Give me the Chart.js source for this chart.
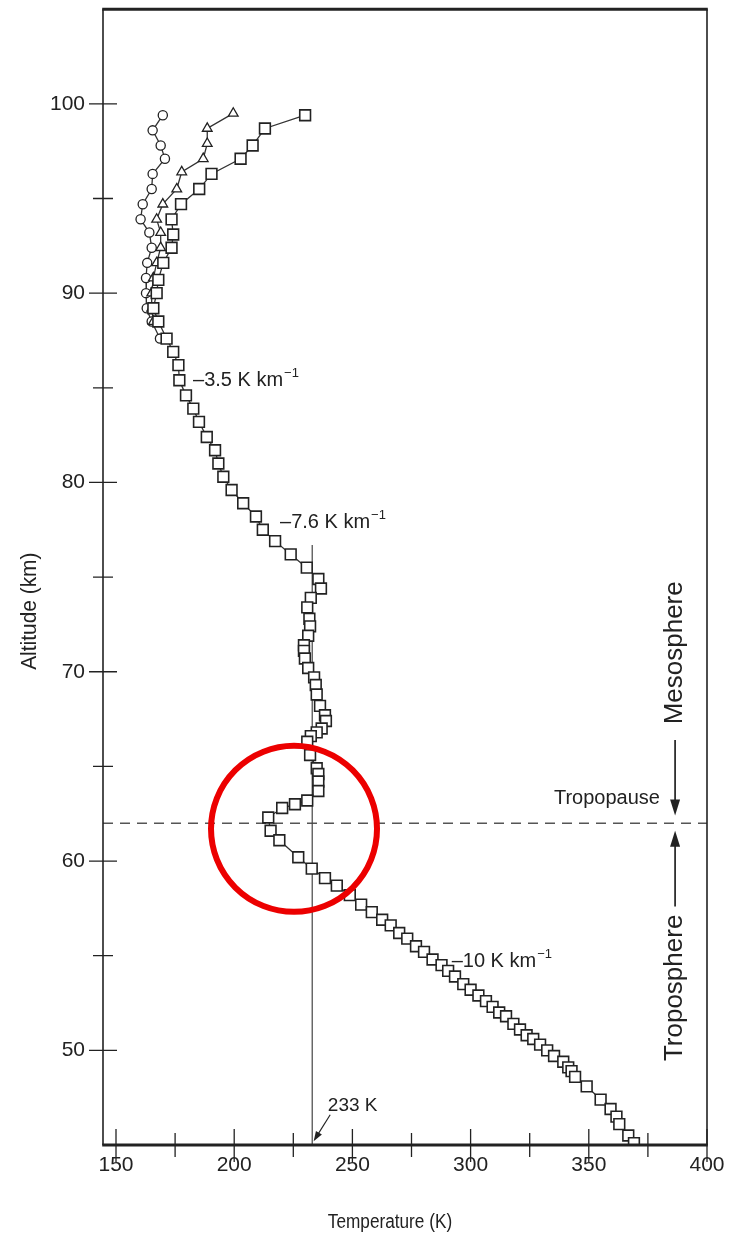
<!DOCTYPE html>
<html>
<head>
<meta charset="utf-8">
<script src="https://cdn.jsdelivr.net/npm/chart.js@4.4.0/dist/chart.umd.min.js"></script>
<style>
  html, body { margin: 0; padding: 0; background: #fff; }
  #wrap { position: relative; width: 732px; height: 1238px; }
</style>
</head>
<body>
<div id="wrap"><canvas id="profile"></canvas></div>
<script>
const FONT = "'Liberation Sans', Arial, Helvetica, sans-serif";
const INK = '#222';

// main profile (squares), top to bottom
const squareAlt = [
    99.4, 98.7, 97.8, 97.1, 96.3, 95.5, 94.7, 93.9, 93.1, 92.4,
    91.6, 90.7, 90.0, 89.2, 88.5, 87.6, 86.9, 86.2, 85.4, 84.6,
    83.9, 83.2, 82.4, 81.7, 81.0, 80.3, 79.6, 78.9, 78.2, 77.5,
    76.9, 76.2, 75.5, 74.9, 74.4, 73.9, 73.4, 72.8, 72.4, 71.9,
    71.4, 71.1, 70.7, 70.2, 69.7, 69.3, 68.8, 68.2, 67.7, 67.4,
    67.0, 66.8, 66.6, 66.3, 65.6, 64.9, 64.6, 64.2, 63.7, 63.2,
    63.0, 62.8, 62.3, 61.6, 61.1, 60.2, 59.6, 59.1, 58.7, 58.2,
    57.7, 57.3, 56.9, 56.6, 56.2, 55.9, 55.5, 55.2, 54.8, 54.5,
    54.2, 53.9, 53.5, 53.2, 52.9, 52.6, 52.3, 52.0, 51.8, 51.4,
    51.1, 50.8, 50.6, 50.3, 50.0, 49.7, 49.4, 49.1, 48.9, 48.6,
    48.1, 47.4, 46.9, 46.5, 46.1, 45.5, 45.1
];
const squareTemp = [
    230.0, 213.0, 207.8, 202.7, 190.4, 185.2, 177.5, 173.5, 174.2, 173.5,
    170.0, 167.9, 167.2, 165.8, 167.9, 171.4, 174.2, 176.4, 176.8, 179.6,
    182.7, 185.1, 188.4, 191.9, 193.3, 195.4, 198.9, 203.8, 209.2, 212.1,
    217.3, 223.9, 230.7, 235.6, 236.7, 232.4, 230.9, 231.8, 232.1, 231.3,
    229.5, 229.5, 229.9, 231.3, 233.8, 234.5, 234.9, 236.3, 238.4, 238.8,
    237.0, 234.9, 232.4, 230.9, 232.1, 234.9, 235.6, 235.6, 235.6, 230.9,
    225.7, 220.3, 214.4, 215.4, 219.1, 227.1, 232.8, 238.4, 243.4, 248.9,
    253.7, 258.2, 262.6, 266.2, 269.8, 273.2, 276.9, 280.3, 283.9, 287.7,
    290.5, 293.4, 296.9, 300.0, 303.3, 306.5, 309.3, 312.1, 315.0, 318.1,
    320.9, 323.7, 326.5, 329.4, 332.4, 335.3, 339.2, 341.3, 342.7, 344.2,
    349.1, 355.0, 359.2, 361.7, 362.9, 366.7, 369.1
];

// upper branches
const triangleAlt  = [99.5, 98.7, 97.9, 97.1, 96.4, 95.5, 94.7, 93.9, 93.2, 92.4, 91.6, 90.8, 90.0, 89.2, 88.5];
const triangleTemp = [199.6, 188.6, 188.6, 186.9, 177.8, 175.7, 169.8, 167.2, 168.9, 168.9, 167.2, 165.8, 165.1, 165.1, 165.8];
const circleAlt  = [99.4, 98.6, 97.8, 97.1, 96.3, 95.5, 94.7, 93.9, 93.2, 92.4, 91.6, 90.8, 90.0, 89.2, 88.5, 87.6];
const circleTemp = [169.8, 165.5, 168.9, 170.7, 165.5, 165.1, 161.3, 160.4, 164.1, 165.1, 163.2, 162.7, 162.7, 163.0, 165.1, 168.6];

const xTicks = [150, 200, 250, 300, 350, 400];
const xMinor = [175, 225, 275, 325, 375];
const yTicks = [50, 60, 70, 80, 90, 100];
const yMinor = [55, 65, 75, 85, 95];

const tropopauseAlt = 62;
const refTemp = 233;
const refTopAlt = 76.7;

function pts(temps, alts) {
    return temps.map((t, i) => ({ x: t, y: alts[i] }));
}

function arrow(ctx, x0, y0, x1, y1, head, half) {
    const a = Math.atan2(y1 - y0, x1 - x0);
    const c = Math.cos(a), s = Math.sin(a);
    ctx.beginPath();
    ctx.moveTo(x0, y0);
    ctx.lineTo(x1 - c * head * 0.7, y1 - s * head * 0.7);
    ctx.stroke();
    ctx.beginPath();
    ctx.moveTo(x1, y1);
    ctx.lineTo(x1 - head * c + half * s, y1 - head * s - half * c);
    ctx.lineTo(x1 - head * c - half * s, y1 - head * s + half * c);
    ctx.closePath();
    ctx.fill();
}

function rateLabel(ctx, px, py, main, sup) {
    ctx.font = '20px ' + FONT;
    ctx.textAlign = 'left';
    ctx.textBaseline = 'middle';
    ctx.fillText(main, px, py);
    const w = ctx.measureText(main).width;
    ctx.font = '13px ' + FONT;
    ctx.fillText(sup, px + w + 1, py - 7);
}

// narrowed text, like the condensed face of the original
function narrowText(ctx, text, px, py, rot, squeeze) {
    ctx.save();
    ctx.translate(px, py);
    ctx.rotate(rot);
    ctx.scale(squeeze, 1);
    ctx.textAlign = 'center';
    ctx.textBaseline = 'middle';
    ctx.fillText(text, 0, 0);
    ctx.restore();
}

const decor = {
    id: 'decor',
    beforeDatasetsDraw(chart) {
        const { ctx, chartArea: a, scales: { x, y } } = chart;
        ctx.save();
        // tropopause
        const yt = y.getPixelForValue(tropopauseAlt);
        ctx.strokeStyle = '#555';
        ctx.lineWidth = 1.6;
        ctx.setLineDash([10, 7]);
        ctx.beginPath();
        ctx.moveTo(a.left, yt);
        ctx.lineTo(a.right, yt);
        ctx.stroke();
        ctx.setLineDash([]);
        // 233 K reference
        const xr = x.getPixelForValue(refTemp);
        ctx.strokeStyle = '#444';
        ctx.lineWidth = 1.2;
        ctx.beginPath();
        ctx.moveTo(xr, y.getPixelForValue(refTopAlt));
        ctx.lineTo(xr, a.bottom);
        ctx.stroke();
        ctx.restore();
    },
    afterDraw(chart) {
        const { ctx, chartArea: a, scales: { x, y } } = chart;
        ctx.save();
        ctx.strokeStyle = INK;
        ctx.fillStyle = INK;

        // frame
        ctx.lineWidth = 1.6;
        ctx.beginPath();
        ctx.moveTo(a.left, a.top); ctx.lineTo(a.left, a.bottom);
        ctx.moveTo(a.right, a.top); ctx.lineTo(a.right, a.bottom);
        ctx.stroke();
        ctx.lineWidth = 3;
        ctx.beginPath();
        ctx.moveTo(a.left - 0.8, a.top); ctx.lineTo(a.right + 0.8, a.top);
        ctx.moveTo(a.left - 0.8, a.bottom); ctx.lineTo(a.right + 0.8, a.bottom);
        ctx.stroke();

        // ticks crossing the axes
        ctx.lineWidth = 1.3;
        ctx.beginPath();
        xTicks.forEach(v => { const p = x.getPixelForValue(v); ctx.moveTo(p, a.bottom - 16); ctx.lineTo(p, a.bottom + 17); });
        xMinor.forEach(v => { const p = x.getPixelForValue(v); ctx.moveTo(p, a.bottom - 12); ctx.lineTo(p, a.bottom + 12); });
        yTicks.forEach(v => { const p = y.getPixelForValue(v); ctx.moveTo(a.left - 14, p); ctx.lineTo(a.left + 14, p); });
        yMinor.forEach(v => { const p = y.getPixelForValue(v); ctx.moveTo(a.left - 10, p); ctx.lineTo(a.left + 10, p); });
        ctx.stroke();

        // axis titles
        ctx.font = '20px ' + FONT;
        narrowText(ctx, 'Temperature (K)', x.getPixelForValue(265.9), 1222, 0, 0.86);
        ctx.font = '22px ' + FONT;
        narrowText(ctx, 'Altitude (km)', 30, y.getPixelForValue(73.2), -Math.PI / 2, 0.95);

        // lapse rate labels
        rateLabel(ctx, x.getPixelForValue(182.6), y.getPixelForValue(85.4), '\u20133.5 K km', '\u22121');
        rateLabel(ctx, x.getPixelForValue(219.4), y.getPixelForValue(77.9), '\u20137.6 K km', '\u22121');
        rateLabel(ctx, x.getPixelForValue(292.0), y.getPixelForValue(54.7), '\u201310 K km', '\u22121');

        // 233 K note
        ctx.font = '19px ' + FONT;
        ctx.textAlign = 'left';
        ctx.textBaseline = 'middle';
        ctx.fillText('233 K', x.getPixelForValue(239.6), y.getPixelForValue(47.05));
        ctx.lineWidth = 1.2;
        arrow(ctx, x.getPixelForValue(240.6), y.getPixelForValue(46.6),
              x.getPixelForValue(233.6), y.getPixelForValue(45.2), 10, 3.5);

        // tropopause / layers
        ctx.font = '20px ' + FONT;
        ctx.textAlign = 'right';
        ctx.fillText('Tropopause', x.getPixelForValue(380.1), y.getPixelForValue(63.3));
        const xa = x.getPixelForValue(386.5);
        ctx.lineWidth = 1.7;
        arrow(ctx, xa, y.getPixelForValue(66.4), xa, y.getPixelForValue(62.4), 16, 5);
        arrow(ctx, xa, y.getPixelForValue(57.6), xa, y.getPixelForValue(61.6), 16, 5);
        ctx.font = '26px ' + FONT;
        narrowText(ctx, 'Mesosphere', xa, y.getPixelForValue(71.0), -Math.PI / 2, 1);
        narrowText(ctx, 'Troposphere', xa, y.getPixelForValue(53.3), -Math.PI / 2, 1);

        // highlight ring
        ctx.strokeStyle = 'rgb(236, 0, 0)';
        ctx.lineWidth = 6;
        ctx.beginPath();
        ctx.arc(x.getPixelForValue(225.3), y.getPixelForValue(61.7), 83, 0, Math.PI * 2);
        ctx.stroke();
        ctx.restore();
    }
};

new Chart(document.getElementById('profile'), {
    type: 'scatter',
    data: {
        datasets: [
            {
                label: 'Profile',
                data: pts(squareTemp, squareAlt),
                showLine: true,
                borderColor: '#333',
                borderWidth: 1.3,
                pointStyle: 'rect',
                pointRadius: 7.6,
                pointBackgroundColor: '#fff',
                pointBorderColor: INK,
                pointBorderWidth: 1.6
            },
            {
                label: 'Branch 2',
                data: pts(triangleTemp, triangleAlt),
                showLine: true,
                borderColor: '#333',
                borderWidth: 1.3,
                pointStyle: 'triangle',
                pointRadius: 5.6,
                pointBackgroundColor: '#fff',
                pointBorderColor: INK,
                pointBorderWidth: 1.3
            },
            {
                label: 'Branch 3',
                data: pts(circleTemp, circleAlt),
                showLine: true,
                borderColor: '#333',
                borderWidth: 1.3,
                pointStyle: 'circle',
                pointRadius: 4.6,
                pointBackgroundColor: '#fff',
                pointBorderColor: INK,
                pointBorderWidth: 1.3
            }
        ]
    },
    options: {
        responsive: true,
        maintainAspectRatio: false,
        animation: false,
        events: [],
        layout: { padding: { top: 6, right: 25, left: 0, bottom: 0 } },
        plugins: { legend: { display: false }, tooltip: { enabled: false } },
        elements: { line: { tension: 0 } },
        scales: {
            x: {
                type: 'linear',
                min: 144.5,
                max: 400,
                grid: { display: false, drawTicks: false },
                border: { display: false },
                afterBuildTicks: s => { s.ticks = xTicks.map(v => ({ value: v })); },
                afterFit: s => { s.height = 93; s.paddingLeft = 0; s.paddingRight = 0; },
                ticks: { color: INK, padding: 8, maxRotation: 0, font: { family: FONT, size: 21 } },
                title: { display: false }
            },
            y: {
                type: 'linear',
                min: 45,
                max: 105,
                grid: { display: false, drawTicks: false },
                border: { display: false },
                afterBuildTicks: s => { s.ticks = yTicks.map(v => ({ value: v })); },
                afterFit: s => { s.width = 103; s.paddingTop = 0; s.paddingBottom = 0; },
                ticks: { color: INK, padding: 18, font: { family: FONT, size: 21 } },
                title: { display: false }
            }
        }
    },
    plugins: [decor]
});
</script>
</body>
</html>
